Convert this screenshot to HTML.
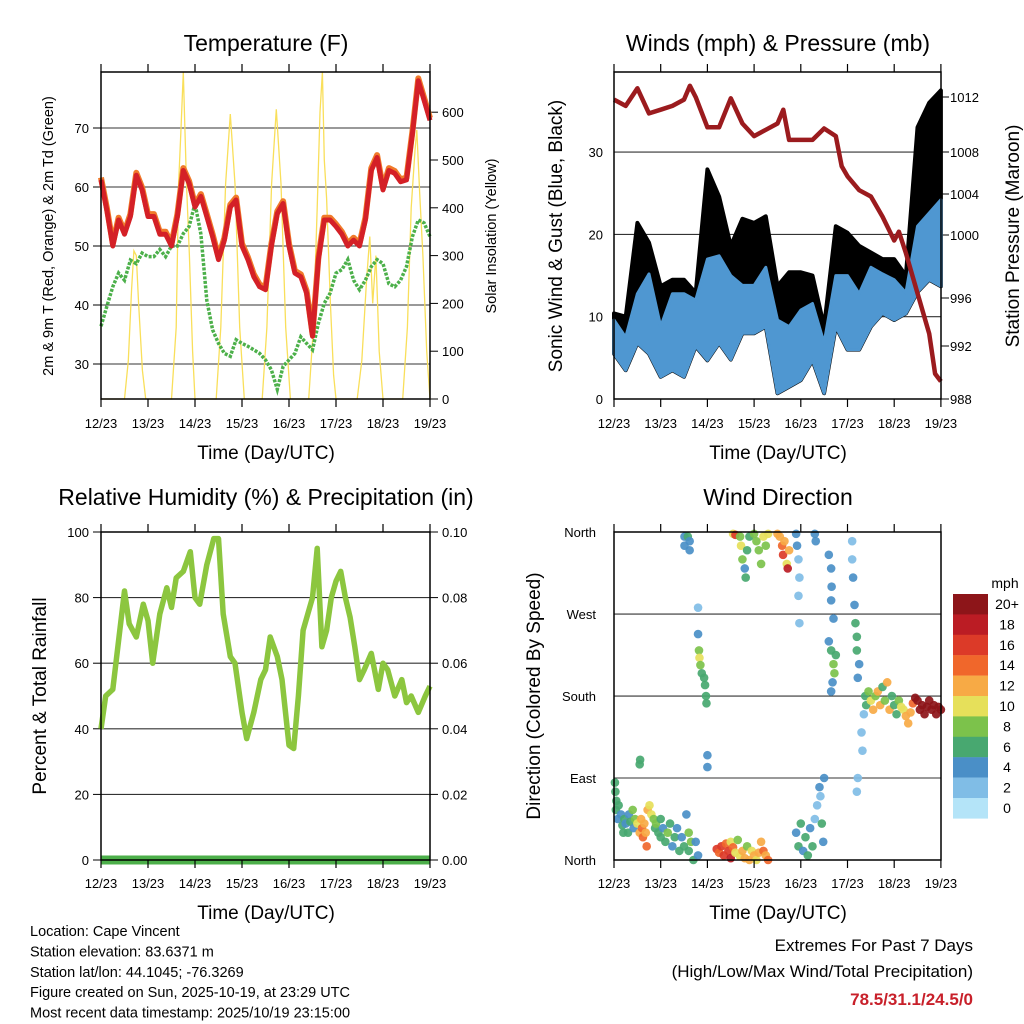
<!DOCTYPE html>
<html><head><meta charset="utf-8"><style>
html,body{margin:0;padding:0;background:#fff;}
svg{display:block;font-family:"Liberation Sans",sans-serif;}
</style></head><body>
<svg id="chart" width="1024" height="1024" viewBox="0 0 1024 1024" xmlns="http://www.w3.org/2000/svg"></svg>
<script>
// ---------- DATA ----------
const tGrid = [];
for (let i = 0; i <= 56; i++) tGrid.push(i * 0.125);
const temp2m = [61.2,56,50,54.4,52,55,62,59.5,55,55,52,52,50,55,62.8,60.6,56.6,58.4,55,51.6,47.7,51,56.6,57.8,50,47.7,44.8,43.1,42.6,50,55.5,57.2,50,45.4,44.8,42,34.7,47.7,54.4,54.4,53.3,52,50,51,50,54.4,62.8,65,59.5,62.8,62.3,60.9,61.2,69,78,74.7,71.3];
const dew2m = [36.4,39.8,43.1,45.4,44.2,47.6,47,48.8,48.2,48.2,49.4,48.2,50,50,52.1,53.3,57.2,52,40.8,35.8,33.5,31.8,31.3,34.1,33.5,33,32.4,31.8,30.7,29,25.7,29.6,30.7,31.8,34.6,33.5,32.4,36.9,40.3,42,45.4,46,47.7,44.2,42.6,44.2,46.5,47.7,47,43.6,43.1,44.2,46.5,51.6,54.4,53.9,51.6];
const solT = [0,0.5,0.58,0.65,0.7,0.75,0.8,0.88,0.95,1.5,1.6,1.65,1.7,1.75,1.78,1.82,1.88,1.95,2.0,2.45,2.55,2.65,2.75,2.85,2.95,3.05,3.43,3.53,3.63,3.73,3.83,3.93,4.03,4.42,4.52,4.6,4.66,4.71,4.75,4.8,4.88,4.95,5.0,5.45,5.55,5.65,5.72,5.78,5.85,5.92,6.0,6.42,6.52,6.6,6.68,6.72,6.78,6.85,6.93,7.0];
const solV = [0,0,80,230,310,300,200,60,0,0,150,450,560,684,580,450,300,100,0,0,150,450,596,450,150,0,0,150,450,606,450,150,0,0,150,400,600,684,500,420,200,50,0,0,80,250,340,200,300,100,0,0,150,400,520,563,430,300,100,0];
const pT = [0,0.25,0.5,0.75,1,1.25,1.5,1.625,1.75,2,2.25,2.5,2.75,3,3.25,3.5,3.625,3.75,4,4.25,4.5,4.75,4.875,5,5.25,5.5,5.75,6,6.1,6.25,6.5,6.75,6.875,7];
const pressure = [1011.8,1011.3,1012.7,1010.7,1011,1011.3,1011.8,1012.9,1012,1009.6,1009.6,1011.9,1009.9,1008.9,1009.4,1009.9,1011,1008.6,1008.6,1008.6,1009.5,1008.9,1006.5,1005.7,1004.6,1004.1,1002.5,1000.6,1001.3,999.6,996.4,993.2,990,989.4];
const wT = [];
for (let i = 0; i <= 28; i++) wT.push(i * 0.25);
const windLo = [5.5,3.5,6.8,5.5,2.7,3.5,2.7,6.4,4.7,6.8,4.8,8,8,8.8,0.7,1.5,2.3,4.7,0.7,8.8,6,6,8.8,10.4,9.6,10.4,13,14.5,13.7];
const windHi = [9.6,7.5,12.8,15.2,8.8,12.8,12.8,12,17,17.4,15,13.8,13.8,16,9.6,8.8,10.8,11.6,6.8,15,15,12.8,16,15.2,14.5,12.9,21,22.6,24.2];
const gustHi = [10.4,10,21.4,19,13.7,14.5,14.5,12.9,27.9,24.6,18.6,21.9,21.4,22.2,13.7,15.4,15.4,15,8.8,21,20.2,18.6,17.8,17,17,15,33,36,37.5];
const rhT = [0,0.1,0.25,0.4,0.5,0.6,0.75,0.9,1.0,1.1,1.25,1.4,1.5,1.6,1.75,1.9,2.0,2.1,2.25,2.4,2.5,2.6,2.75,2.85,3.0,3.1,3.25,3.4,3.5,3.6,3.75,3.85,4.0,4.1,4.2,4.3,4.4,4.5,4.6,4.7,4.8,4.9,5.0,5.1,5.2,5.3,5.4,5.5,5.6,5.75,5.9,6.0,6.1,6.25,6.4,6.5,6.6,6.75,6.9,7.0];
const rh = [40,50,52,70,82,72,68,78,73,60,75,83,77,86,88,94,80,78,90,98,98,75,62,60,45,37,45,55,58,68,62,55,35,34,50,70,75,80,95,65,70,80,85,88,80,74,65,55,58,63,52,60,58,50,55,48,50,45,50,53];
const precipT = [0,7];
const precip = [0,0];
const dirT = [0.02,0.03,0.05,0.04,0.08,0.1,0.15,0.18,0.2,0.22,0.25,0.3,0.32,0.35,0.4,0.42,0.45,0.5,0.55,0.58,0.6,0.62,0.65,0.68,0.7,0.72,0.76,0.8,0.85,0.88,0.9,0.95,1.0,1.0,1.05,1.1,1.15,1.2,1.25,1.3,1.35,1.4,1.45,1.5,1.55,1.6,1.6,1.65,1.7,1.75,1.8,0.55,0.56,
1.51,1.51,1.58,1.62,1.62,1.8,1.8,1.82,1.83,1.85,1.88,1.93,1.95,1.97,1.98,2.0,2.0,
2.2,2.25,2.3,2.35,2.4,2.45,2.5,2.5,2.55,2.6,2.65,2.7,2.75,2.8,2.85,2.9,2.95,3.0,3.05,3.1,3.15,3.2,3.25,3.3,
2.55,2.6,2.7,2.72,2.75,2.8,2.82,2.85,2.9,3.0,3.05,3.1,3.15,3.2,3.25,3.3,3.5,3.55,3.6,3.62,3.65,3.7,3.72,3.75,
3.9,3.95,4.0,4.05,4.1,4.15,4.2,4.25,4.3,4.35,4.4,4.42,4.45,4.5,4.48,
3.9,3.92,3.95,3.97,3.95,3.97,4.3,4.32,
4.6,4.65,4.66,4.65,4.7,4.6,4.65,4.7,4.72,4.68,4.65,4.75,
5.1,5.1,5.12,5.15,5.17,5.2,5.2,5.25,5.22,5.22,5.2,5.35,5.3,5.32,5.38,5.4,5.45,5.5,5.55,5.6,5.65,5.7,5.75,5.8,5.85,5.9,5.95,6.0,6.05,6.1,6.15,6.2,6.25,6.3,6.35,6.4,6.45,6.5,6.55,6.6,6.65,6.7,6.75,6.8,6.85,6.9,6.95,7.0];
const dirDeg = [85,75,65,55,45,60,50,38,30,45,40,30,50,42,55,35,45,40,30,45,35,25,40,30,15,55,60,50,45,35,40,30,25,45,35,20,30,40,15,25,35,10,25,15,50,30,10,20,0,20,5,105,110,
355,345,355,350,340,277,248,230,222,214,205,200,192,180,172,115,102,
12,8,15,5,18,10,2,20,14,8,22,4,10,2,15,0,10,5,0,8,20,10,5,0,
358,357,355,345,330,320,310,340,355,358,350,340,325,355,345,358,358,355,345,335,350,325,320,340,
30,15,40,10,25,5,35,15,45,60,80,70,40,90,20,
358,345,330,310,290,260,358,350,
335,320,300,285,265,240,230,215,205,195,185,225,
350,330,310,280,260,245,230,215,200,90,75,160,140,120,180,170,185,175,165,180,185,170,190,175,195,165,180,170,160,175,168,165,158,150,162,172,178,175,165,170,160,168,175,165,170,160,168,165];
const dirSpd = [6,6,6,6,4,6,4,6,6,6,4,6,4,6,8,4,8,10,12,12,14,14,12,12,14,12,10,10,8,6,8,6,6,6,4,6,8,6,4,6,4,6,4,6,4,8,6,8,6,4,4,6,6,
4,4,6,4,4,2,4,8,10,8,6,6,6,6,6,4,4,
16,14,16,16,14,16,18,10,14,10,8,10,12,12,8,12,10,12,10,12,12,14,12,14,
10,16,8,10,8,4,6,6,6,8,8,8,8,10,8,10,12,12,14,16,12,10,18,12,
4,6,6,4,6,6,4,6,2,2,4,2,6,4,4,
4,4,2,2,2,2,4,4,
4,4,4,4,4,4,6,8,8,4,4,6,
2,2,4,4,6,6,6,4,4,2,2,2,2,2,6,6,8,10,12,8,12,12,6,8,12,12,6,6,6,8,10,10,12,12,12,14,20,20,20,20,20,20,20,20,20,20,20,20];
const xTickLabels = ["12/23","13/23","14/23","15/23","16/23","17/23","18/23","19/23"];
const speedBinLabels = ["20+","18","16","14","12","10","8","6","4","2","0"];
const speedColors = ["#b4e4f8","#80bde6","#4a8fc7","#48a870","#7cc24b","#e6e05a","#f7aa45","#f0672b","#dc3a28","#bb1c24","#8d1519"];

// ---------- HELPERS ----------
const svg = document.getElementById('chart');
const NS = 'http://www.w3.org/2000/svg';
function mk(tag, attrs, parent) {
  const e = document.createElementNS(NS, tag);
  for (const k in attrs) e.setAttribute(k, attrs[k]);
  (parent || svg).appendChild(e);
  return e;
}
function txt(s, x, y, size, anchor, parent, extra) {
  const t = mk('text', Object.assign({x: x, y: y, 'font-size': size, 'text-anchor': anchor || 'middle', fill: '#000'}, extra || {}), parent);
  t.textContent = s;
  return t;
}
function poly(xs, ys) { return xs.map((x, i) => x.toFixed(1) + ',' + ys[i].toFixed(1)).join(' '); }

// scales
const X1 = d => 101 + d * 47;
const X2 = d => 614 + d * 46.7;
const yT = v => 128 + (70 - v) * 5.9;
const ySol = v => 399 - v * 0.478;
const yW = v => 399 - v * 8.23;
const yP = v => 399 - (v - 988) * 12.58;
const yRH = v => 860 - v * 3.28;
const yPr = v => 860 - v * 3280;
const yD = v => 860 - v * 0.911;

function frame(x0, x1, y0, y1, name, xf, labelY) {
  const g = mk('g', {});
  
  
  xTickLabels.forEach((s, i) => {
    const x = xf(i);
    mk('line', {x1: x, x2: x, y1: y0 - 8, y2: y0, stroke: '#000', 'stroke-width': 1.2}, g);
    mk('line', {x1: x, x2: x, y1: y1, y2: y1 + 8, stroke: '#000', 'stroke-width': 1.2}, g);
    const t = txt(s, x, labelY, 13, 'middle', g);
    
    
  });
  return g;
}
function border(x0, x1, y0, y1) {
  mk('rect', {x: x0, y: y0, width: x1 - x0, height: y1 - y0, fill: 'none', stroke: '#000', 'stroke-width': 1.5});
}
function hgrid(y, x0, x1) { mk('line', {x1: x0, x2: x1, y1: y, y2: y, stroke: '#333', 'stroke-width': 1.1}); }

// ---------- PANEL 1: TEMPERATURE ----------
{
  const t = txt('Temperature (F)', 266, 51, 23);  
  [30, 40, 50, 60, 70].forEach(v => {
    hgrid(yT(v), 101, 430);
    const l = txt(String(v), 89, yT(v) + 5, 13, 'end');  
    mk('line', {x1: 93, x2: 101, y1: yT(v), y2: yT(v), stroke: '#000'});
  });
  [0, 100, 200, 300, 400, 500, 600].forEach(v => {
    const l = txt(String(v), 442, ySol(v) + 5, 13, 'start');  
    mk('line', {x1: 430, x2: 438, y1: ySol(v), y2: ySol(v), stroke: '#000'});
  });
  const sol = mk('polyline', {points: poly(solT.map(X1), solV.map(ySol)), fill: 'none', stroke: '#f9df5a', 'stroke-width': 1.3});
   
  const dg = mk('g', {});
   
  mk('polyline', {points: poly(tGrid.map(X1), dew2m.map(yT)), fill: 'none', stroke: '#4cb04a', 'stroke-width': 3.5, 'stroke-dasharray': '3,1.5'}, dg);
  const o = mk('polyline', {points: poly(tGrid.map(X1), temp2m.map(v => yT(v + 0.4))), fill: 'none', stroke: '#f07a2a', 'stroke-width': 6, 'stroke-linejoin': 'round'});
   
  const r = mk('polyline', {points: poly(tGrid.map(X1), temp2m.map(yT)), fill: 'none', stroke: '#d42027', 'stroke-width': 5, 'stroke-linejoin': 'round'});
   
  border(101, 430, 72, 399);
  frame(101, 430, 72, 399, 'temperature', i => X1(i), 428);
  const xt = txt('Time (Day/UTC)', 266, 459, 19);  
  const yl = txt('2m & 9m T (Red, Orange) & 2m Td (Green)', 0, 0, 14.5, 'middle', null, {transform: 'translate(53,236) rotate(-90)'});
   
  const yr = txt('Solar Insolation (Yellow)', 0, 0, 14.5, 'middle', null, {transform: 'translate(496,236) rotate(-90)'});
   
}

// ---------- PANEL 2: WINDS ----------
{
  const t = txt('Winds (mph) & Pressure (mb)', 778, 51, 23);  
  [10, 20, 30].forEach(v => hgrid(yW(v), 614, 941));
  [0, 10, 20, 30].forEach(v => {
    const l = txt(String(v), 603, yW(v) + 5, 13, 'end');  
  });
  const pLabels = [988, 992, 996, 1000, 1004, 1008, 1012];
  const pLabelY = [399, 346, 298, 235, 194, 152, 97];
  pLabels.forEach((v, i) => {
    const l = txt(String(v), 950, pLabelY[i] + 5, 13, 'start');  
    mk('line', {x1: 941, x2: 949, y1: pLabelY[i], y2: pLabelY[i], stroke: '#000'});
  });
  const gx = wT.map(X2);
  const gust = mk('polygon', {points: poly(gx.concat(gx.slice().reverse()), gustHi.map(yW).concat(windLo.map(yW).reverse())), fill: '#000', stroke: '#000', 'stroke-width': 4, 'stroke-linejoin': 'round'});
   
  const wind = mk('polygon', {points: poly(gx.concat(gx.slice().reverse()), windHi.map(yW).concat(windLo.map(yW).reverse())), fill: '#4f97d1', stroke: '#4f97d1', 'stroke-width': 3, 'stroke-linejoin': 'round'});
   
  const p = mk('polyline', {points: poly(pT.map(X2), pressure.map(yP)), fill: 'none', stroke: '#9b1b1e', 'stroke-width': 4.5, 'stroke-linejoin': 'round'});
   
  border(614, 941, 72, 399);
  frame(614, 941, 72, 399, 'winds', i => X2(i), 428);
  const xt = txt('Time (Day/UTC)', 778, 459, 19);  
  const yl = txt('Sonic Wind & Gust (Blue, Black)', 0, 0, 19, 'middle', null, {transform: 'translate(562,236) rotate(-90)'});
   
  const yr = txt('Station Pressure (Maroon)', 0, 0, 19, 'middle', null, {transform: 'translate(1019,236) rotate(-90)'});
   
}

// ---------- PANEL 3: RH ----------
{
  const t = txt('Relative Humidity (%) & Precipitation (in)', 266, 505, 23);  
  [20, 40, 60, 80].forEach(v => hgrid(yRH(v), 101, 430));
  [0, 20, 40, 60, 80, 100].forEach(v => {
    const l = txt(String(v), 89, yRH(v) + 5, 13, 'end');  
    mk('line', {x1: 93, x2: 101, y1: yRH(v), y2: yRH(v), stroke: '#000'});
  });
  [0, 0.02, 0.04, 0.06, 0.08, 0.10].forEach(v => {
    const l = txt(v.toFixed(2), 442, yPr(v) + 5, 13, 'start');  
    mk('line', {x1: 430, x2: 438, y1: yPr(v), y2: yPr(v), stroke: '#000'});
  });
  const r = mk('polyline', {points: poly(rhT.map(X1), rh.map(yRH)), fill: 'none', stroke: '#8cc63f', 'stroke-width': 5.5, 'stroke-linejoin': 'round'});
   
  const p = mk('polyline', {points: poly(precipT.map(X1), precip.map(yPr)), fill: 'none', stroke: '#4caf4a', 'stroke-width': 9});
   
  border(101, 430, 532, 860);
  frame(101, 430, 532, 860, 'humidity', i => X1(i), 888);
  const xt = txt('Time (Day/UTC)', 266, 919, 19);  
  const yl = txt('Percent & Total Rainfall', 0, 0, 19, 'middle', null, {transform: 'translate(46,696) rotate(-90)'});
   
}

// ---------- PANEL 4: WIND DIRECTION ----------
{
  const t = txt('Wind Direction', 778, 505, 23);  
  const dirLabels = ['North', 'East', 'South', 'West', 'North'];
  [90, 180, 270].forEach(v => hgrid(yD(v), 614, 941));
  dirLabels.forEach((s, i) => {
    const l = txt(s, 596, yD(i * 90) + 5, 13, 'end');  
  });
  const dg = mk('g', {});
   
  dirT.forEach((d, i) => {
    const bin = Math.min(10, Math.floor(dirSpd[i] / 2));
    const c = mk('circle', {cx: X2(d), cy: yD(dirDeg[i]), r: 4.3, fill: speedColors[bin], 'fill-opacity': 0.92}, dg);
    
    
  });
  border(614, 941, 532, 860);
  frame(614, 941, 532, 860, 'direction', i => X2(i), 888);
  const xt = txt('Time (Day/UTC)', 778, 919, 19);  
  const yl = txt('Direction (Colored By Speed)', 0, 0, 19, 'middle', null, {transform: 'translate(540,696) rotate(-90)'});
   
  // colorbar
  const cb = mk('g', {});
   
  const u = txt('mph', 1005, 588, 14, 'middle', cb);  
  speedBinLabels.forEach((s, i) => {
    const y = 594 + i * 20.4;
    mk('rect', {x: 953, y: y, width: 35, height: 20.6, fill: speedColors[10 - i]}, cb);
    const l = txt(s, 1007, y + 15, 14, 'middle', cb);  
  });
}

// ---------- FOOTER ----------
{
  const lines = ['Location: Cape Vincent', 'Station elevation: 83.6371 m', 'Station lat/lon: 44.1045; -76.3269', 'Figure created on Sun, 2025-10-19, at 23:29 UTC', 'Most recent data timestamp: 2025/10/19 23:15:00'];
  lines.forEach((s, i) => {
    const l = txt(s, 30, 936 + i * 20.4, 14.5, 'start');  
  });
  const a = txt('Extremes For Past 7 Days', 973, 951, 17, 'end');  
  const b = txt('(High/Low/Max Wind/Total Precipitation)', 973, 977, 17, 'end');  
  const c = txt('78.5/31.1/24.5/0', 973, 1005, 17, 'end', null, {fill: '#c8202a', 'font-weight': 'bold'});  
}
</script>
</body></html>
